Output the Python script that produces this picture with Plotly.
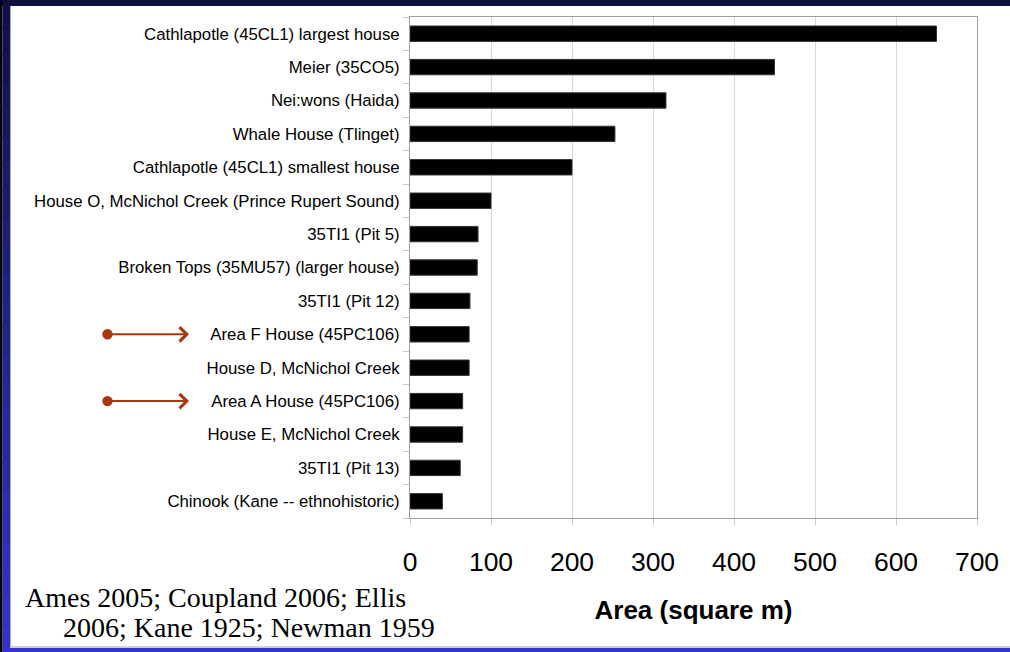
import plotly.graph_objects as go

categories = [
    "Cathlapotle (45CL1) largest house",
    "Meier (35CO5)",
    "Nei:wons (Haida)",
    "Whale House (Tlinget)",
    "Cathlapotle (45CL1) smallest house",
    "House O, McNichol Creek (Prince Rupert Sound)",
    "35TI1 (Pit 5)",
    "Broken Tops (35MU57) (larger house)",
    "35TI1 (Pit 12)",
    "Area F House (45PC106)",
    "House D, McNichol Creek",
    "Area A House (45PC106)",
    "House E, McNichol Creek",
    "35TI1 (Pit 13)",
    "Chinook (Kane -- ethnohistoric)",
]
areas = [650, 450, 316, 253, 200, 100, 84, 83, 74, 73, 73, 65, 65, 62, 40]
x_ticks = [0, 100, 200, 300, 400, 500, 600, 700]
arrowed = ["Area F House (45PC106)", "Area A House (45PC106)"]
x_title = "Area (square m)"
citation_lines = ["Ames 2005; Coupland 2006; Ellis", "2006; Kane 1925; Newman 1959"]

W, H = 1010, 652
L, R, T, B = 410, 33, 17, 134
PW, PH = W - L - R, H - T - B

def px(x):
    return (x - L) / PW

def py(y):
    return (H - B - y) / PH

fig = go.Figure(go.Bar(
    x=areas, y=categories, orientation="h",
    marker=dict(color="black", line=dict(color="#333333", width=1)),
    width=0.46,
))

fig.update_layout(
    width=W, height=H,
    margin=dict(l=L, r=R, t=T, b=B),
    paper_bgcolor="white", plot_bgcolor="white",
    showlegend=False,
    font=dict(family="Liberation Sans, Arial, sans-serif", color="black"),
)
fig.update_xaxes(
    range=[0, 700], tickvals=x_ticks, ticktext=[str(v) for v in x_ticks],
    showgrid=True, gridcolor="#d9d9d9", gridwidth=1,
    showline=True, linecolor="#a0a0a0", linewidth=1, mirror=True,
    ticks="outside", ticklen=6, tickcolor="#c8c8c8",
    tickfont=dict(size=26.5, family="Liberation Sans, Arial, sans-serif"),
    ticklabelstandoff=14,
    zeroline=False,
    title=dict(text="<b>" + x_title + "</b>", font=dict(size=26), standoff=25),
)
fig.update_yaxes(
    categoryorder="array", categoryarray=categories[::-1],
    range=[-0.5, len(categories) - 0.5],
    showgrid=False,
    showline=True, linecolor="#a0a0a0", linewidth=1, mirror=True,
    ticks="outside", ticklen=6, tickcolor="#c8c8c8", tickson="boundaries",
    tickfont=dict(size=16.8),
    ticklabelstandoff=6,
)

# arrows pointing at the site's houses
for cat in arrowed:
    fig.add_annotation(
        x=px(189), y=cat, xref="paper", yref="y",
        ax=-83, ay=0, axref="pixel", ayref="pixel",
        showarrow=True, text="",
        arrowhead=4, arrowsize=1.4, arrowwidth=2, arrowcolor="#a8380e",
        arrowside="end+start", startarrowhead=6, startarrowsize=1.3,
    )

# citation
serif = "Liberation Serif, Times New Roman, serif"
fig.add_annotation(x=px(23), y=py(597), xref="paper", yref="paper",
                   text=citation_lines[0], showarrow=False, xanchor="left", yanchor="middle",
                   font=dict(family=serif, size=28))
fig.add_annotation(x=px(61), y=py(627), xref="paper", yref="paper",
                   text=citation_lines[1], showarrow=False, xanchor="left", yanchor="middle",
                   font=dict(family=serif, size=28))

# slide frame
shapes = []
n = 24
def lerp(c1, c2, t):
    return "rgb(%d,%d,%d)" % tuple(round(a + (b - a) * t) for a, b in zip(c1, c2))
top_c, bot_c = (16, 16, 70), (52, 52, 206)
for i in range(n):
    y0p, y1p = H * i / n, H * (i + 1) / n + 2
    shapes.append(dict(type="rect", xref="paper", yref="paper", x0=px(2.5), x1=px(10),
                       y0=py(y1p), y1=py(y0p), fillcolor=lerp(top_c, bot_c, (i + 0.5) / n),
                       line=dict(width=0), layer="above"))
shapes.append(dict(type="rect", xref="paper", yref="paper", x0=px(0), x1=px(W), y0=py(6), y1=py(-2),
                   fillcolor="#10103f", line=dict(width=0), layer="above"))
shapes.append(dict(type="rect", xref="paper", yref="paper", x0=px(0), x1=px(2.5), y0=py(H), y1=py(0),
                   fillcolor="#050510", line=dict(width=0), layer="above"))
shapes.append(dict(type="rect", xref="paper", yref="paper", x0=px(2.5), x1=px(W), y0=py(H + 2), y1=py(648),
                   fillcolor="#3434cc", line=dict(width=0), layer="above"))
shapes.append(dict(type="line", xref="paper", yref="paper", x0=px(10), x1=px(W), y0=py(647), y1=py(647),
                   line=dict(color="#a0a0a0", width=1), layer="above"))
shapes.append(dict(type="line", xref="paper", yref="paper", x0=px(10.5), x1=px(10.5), y0=py(647), y1=py(6),
                   line=dict(color="#b0b0b0", width=1), layer="above"))
fig.update_layout(shapes=shapes)

fig.write_html("out.html", config={"displayModeBar": False},
               post_script="document.body.style.margin='0px';document.body.style.overflow='hidden';")
